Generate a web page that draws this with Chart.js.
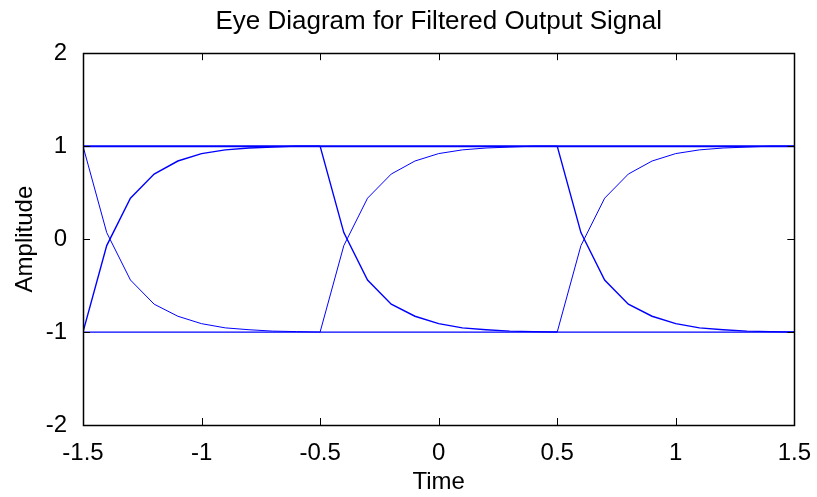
<!DOCTYPE html>
<html>
<head>
<meta charset="utf-8">
<title>Eye Diagram</title>
<script src="https://cdn.jsdelivr.net/npm/chart.js@4.4.1/dist/chart.umd.min.js"></script>
<style>
  html, body { margin: 0; padding: 0; background: #fff; }
  #eye { display: block; }
</style>
</head>
<body>
<canvas id="eye" width="817" height="497"></canvas>
<script>
// Symbol-period samples (time offset inside one transition trace)
const sampleOffsets = [0, 0.1, 0.2, 0.3, 0.4, 0.5, 0.6, 0.7, 0.8, 0.9, 1.0];
// Filtered response for a low->high and a high->low transition
const risingEdge = [-1, -0.07, 0.44, 0.70, 0.84, 0.92, 0.96, 0.98, 0.99, 1.0, 1.0];
const fallingEdge = [1, 0.07, -0.44, -0.70, -0.83, -0.91, -0.955, -0.975, -0.99, -0.995, -1.0];
// Times where a transition starts
const transitionStarts = [-1.5, -0.5, 0.5];
// Steady levels held across the whole window
const levelTimes = [-1.5, 1.5];
const highLevel = [1, 1];
const lowLevel = [-1, -1];

const xTicks = [-1.5, -1, -0.5, 0, 0.5, 1, 1.5];
const yTicks = [-2, -1, 0, 1, 2];

const FONT = '"Liberation Sans", Arial, Helvetica, sans-serif';
const BLUE = '#0000ff';

function toPoints(times, values) {
    return times.map((t, i) => ({ x: t, y: values[i] }));
}

function trace(points, width) {
    return {
        data: points,
        showLine: true,
        borderColor: BLUE,
        borderWidth: width,
        pointRadius: 0,
        fill: false,
        tension: 0
    };
}

// overlapping traces look heavier in some places
const riseWidths = [1.4, 1, 1];
const fallWidths = [1, 1.4, 1.4];

const datasets = [
    trace(toPoints(levelTimes, highLevel), 2),
    trace(toPoints(levelTimes, lowLevel), 1.2)
];
transitionStarts.forEach((start, k) => {
    const times = sampleOffsets.map(o => Math.round((start + o) * 10) / 10);
    datasets.push(trace(toPoints(times, risingEdge), riseWidths[k]));
    datasets.push(trace(toPoints(times, fallingEdge), fallWidths[k]));
});

// box around the axes with inward tick marks on all four sides
const axesBox = {
    id: 'axesBox',
    afterDraw(chart) {
        const { ctx, chartArea: a, scales } = chart;
        ctx.save();
        ctx.strokeStyle = '#000';
        ctx.lineWidth = 1;
        ctx.beginPath();
        xTicks.forEach(v => {
            const px = Math.round(scales.x.getPixelForValue(v)) + 0.5;
            ctx.moveTo(px, a.bottom);
            ctx.lineTo(px, a.bottom - 7);
            ctx.moveTo(px, a.top);
            ctx.lineTo(px, a.top + 7);
        });
        yTicks.forEach(v => {
            const py = Math.round(scales.y.getPixelForValue(v)) + 0.5;
            ctx.moveTo(a.left, py);
            ctx.lineTo(a.left + 7, py);
            ctx.moveTo(a.right, py);
            ctx.lineTo(a.right - 7, py);
        });
        ctx.stroke();
        ctx.lineWidth = 1.5;
        ctx.strokeRect(Math.round(a.left) + 0.5, Math.round(a.top) + 0.5,
            Math.round(a.right - a.left), Math.round(a.bottom - a.top));
        ctx.restore();
    }
};

const plainNumber = v => String(v);

new Chart(document.getElementById('eye'), {
    type: 'scatter',
    data: { datasets },
    options: {
        responsive: false,
        animation: false,
        layout: { padding: { left: 11, right: 22, top: 0, bottom: 0 } },
        plugins: {
            legend: { display: false },
            tooltip: { enabled: false },
            title: {
                display: true,
                fullSize: false,
                text: 'Eye Diagram for Filtered Output Signal',
                color: '#000',
                font: { family: FONT, size: 26, weight: 'normal' },
                padding: { top: 6, bottom: 16 }
            }
        },
        scales: {
            x: {
                type: 'linear',
                min: -1.5,
                max: 1.5,
                afterBuildTicks: s => { s.ticks = xTicks.map(v => ({ value: v })); },
                afterFit: s => { s.height = 72; },
                grid: { display: false },
                border: { display: false },
                ticks: {
                    color: '#000',
                    padding: 6,
                    maxRotation: 0,
                    callback: plainNumber,
                    font: { family: FONT, size: 24 }
                },
                title: {
                    display: true,
                    text: 'Time',
                    color: '#000',
                    padding: { top: 2, bottom: 0 },
                    font: { family: FONT, size: 24 }
                }
            },
            y: {
                type: 'linear',
                min: -2,
                max: 2,
                afterBuildTicks: s => { s.ticks = yTicks.map(v => ({ value: v })); },
                afterFit: s => { s.width = 72; },
                grid: { display: false },
                border: { display: false },
                ticks: {
                    color: '#000',
                    padding: 8,
                    callback: plainNumber,
                    font: { family: FONT, size: 24 }
                },
                title: {
                    display: true,
                    text: 'Amplitude',
                    color: '#000',
                    padding: { top: 0, bottom: 4 },
                    font: { family: FONT, size: 24 }
                }
            }
        }
    },
    plugins: [axesBox]
});
</script>
</body>
</html>
